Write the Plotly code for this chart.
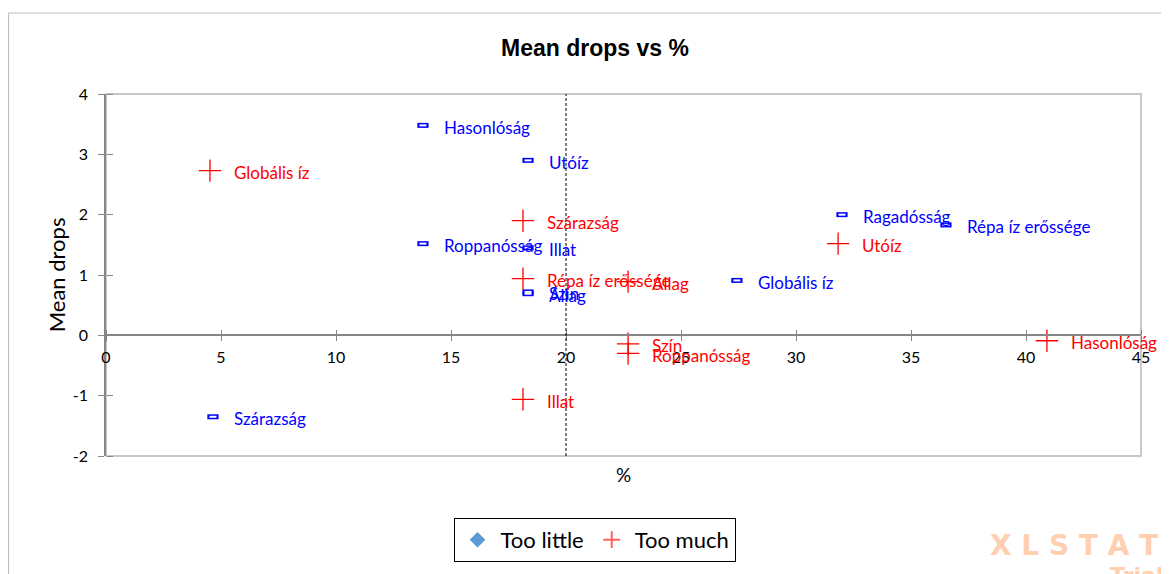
import plotly.graph_objects as go

# Too little (blue)
little_names = ["Hasonlóság", "Utóíz", "Roppanósság", "Illat", "Szín", "Állag",
                "Globális íz", "Ragadósság", "Répa íz erőssége", "Szárazság"]
little_x = [13.78, 18.35, 13.78, 18.35, 18.35, 18.35, 27.43, 32.0, 36.52, 4.65]
little_y = [3.48, 2.90, 1.52, 1.45, 0.72, 0.69, 0.91, 2.00, 1.83, -1.35]

# Too much (red)
much_names = ["Globális íz", "Szárazság", "Répa íz erőssége", "Állag", "Utóíz",
              "Hasonlóság", "Szín", "Roppanósság", "Illat"]
much_x = [4.52, 18.13, 18.13, 22.70, 31.83, 40.91, 22.70, 22.70, 18.13]
much_y = [2.73, 1.90, 0.94, 0.89, 1.52, -0.09, -0.14, -0.30, -1.06]

x_ticks = [0, 5, 10, 15, 20, 25, 30, 35, 40, 45]
x_tick_labels = ["0", "5", "10", "15", "20", "25", "30", "35", "40", "45"]
y_ticks = [-2, -1, 0, 1, 2, 3, 4]
y_tick_labels = ["-2", "-1", "0", "1", "2", "3", "4"]
x_range = [0, 45]
y_range = [-2, 4]
threshold = 20

BLUE = "#0000FF"
RED = "#FF0000"
AXIS = "#868686"
FONT = "Lato"

fig = go.Figure()

# blue hollow rectangles: outer blue bar + inner white bar
fig.add_trace(go.Scatter(x=little_x, y=little_y, mode="markers", showlegend=False,
                         marker=dict(symbol="line-ew", size=8, line=dict(color=BLUE, width=5)),
                         hoverinfo="skip"))
fig.add_trace(go.Scatter(x=little_x, y=little_y, mode="markers", showlegend=False,
                         marker=dict(symbol="line-ew", size=5, line=dict(color="white", width=2)),
                         hoverinfo="skip"))
fig.add_trace(go.Scatter(x=much_x, y=much_y, mode="markers", showlegend=False,
                         marker=dict(symbol="cross-thin", size=16, line=dict(color=RED, width=1.3))))

# legend-only traces
fig.add_trace(go.Scatter(x=[None], y=[None], mode="markers", name="Too little",
                         marker=dict(symbol="diamond", size=12, color="#5B9BD5")))
fig.add_trace(go.Scatter(x=[None], y=[None], mode="markers", name="Too much",
                         marker=dict(symbol="cross-thin", size=15, line=dict(color="#FF6060", width=1.5))))

# dummy trace for crossing-tick overlay axes
fig.add_trace(go.Scatter(x=[None], y=[None], xaxis="x2", yaxis="y2", showlegend=False))

annotations = []
for n, x, y in zip(little_names, little_x, little_y):
    annotations.append(dict(x=x, y=y, text=n, showarrow=False, xanchor="left", yanchor="middle",
                            xshift=19, yshift=-2, font=dict(family=FONT, size=17, color=BLUE)))
for n, x, y in zip(much_names, much_x, much_y):
    annotations.append(dict(x=x, y=y, text=n, showarrow=False, xanchor="left", yanchor="middle",
                            xshift=22, yshift=-2, font=dict(family=FONT, size=17, color=RED)))

annotations += [
    dict(xref="paper", yref="paper", x=0.472, y=1.127, text="<b>Mean drops vs %</b>", showarrow=False,
         xanchor="center", yanchor="middle",
         font=dict(family="Liberation Sans", size=23, color="black")),
    dict(xref="paper", yref="paper", x=0.5, y=-0.052, text="%", showarrow=False,
         xanchor="center", yanchor="middle",
         font=dict(family=FONT, size=19, color="black")),
    dict(xref="paper", yref="paper", x=-0.048, y=0.5, text="Mean drops", showarrow=False, textangle=-90,
         xanchor="center", yanchor="middle",
         font=dict(family=FONT, size=22, color="black")),
    dict(xref="paper", yref="paper", x=0.852, y=-0.246, text="<b>X L S T A T</b>", showarrow=False,
         xanchor="left", yanchor="middle",
         font=dict(family="DejaVu Sans", size=28, color="#FFCFB0")),
    dict(xref="paper", yref="paper", x=0.968, y=-0.33, text="<b>Trial</b>", showarrow=False,
         xanchor="left", yanchor="middle",
         font=dict(family="DejaVu Sans", size=22, color="#FFCFB0")),
]

shapes = [
    # outer chart border (top and left edges visible)
    dict(type="line", xref="paper", yref="paper", x0=-0.0942, x1=1.1, y0=1.2238, y1=1.2238,
         line=dict(color="#BFBFBF", width=1.2), layer="below"),
    dict(type="line", xref="paper", yref="paper", x0=-0.0942, x1=-0.0942, y0=-0.6, y1=1.2238,
         line=dict(color="#BFBFBF", width=1.2), layer="below"),
    # plot area border
    dict(type="rect", xref="paper", yref="paper", x0=0, x1=1, y0=0, y1=1,
         line=dict(color="#C8C8C8", width=2), layer="below"),
    # threshold line
    dict(type="line", xref="x", yref="paper", x0=threshold, x1=threshold, y0=0, y1=1,
         line=dict(color="black", width=1, dash="3px,2px")),
]

fig.update_layout(
    width=1161, height=566,
    margin=dict(l=98, r=28, t=86, b=118),
    paper_bgcolor="white", plot_bgcolor="white",
    showlegend=True,
    legend=dict(orientation="h", x=0.472, xanchor="center", y=-0.171, yanchor="top",
                bordercolor="black", borderwidth=1, bgcolor="white",
                font=dict(family=FONT, size=22, color="black"),
                itemsizing="constant", itemwidth=36),
    xaxis=dict(range=x_range, tickvals=x_ticks, ticktext=x_tick_labels, showgrid=False, zeroline=False,
               showline=True, linecolor=AXIS, linewidth=1.5,
               anchor="free", position=1/3, ticks="outside", ticklen=5, tickcolor=AXIS,
               ticklabelstandoff=3,
               tickfont=dict(family=FONT, size=16, color="black")),
    yaxis=dict(range=y_range, tickvals=y_ticks, ticktext=y_tick_labels, showgrid=False, zeroline=False,
               showline=True, linecolor=AXIS, linewidth=1.5,
               ticks="outside", ticklen=6, tickcolor=AXIS, ticklabelstandoff=7,
               tickfont=dict(family=FONT, size=16, color="black")),
    xaxis2=dict(range=x_range, tickvals=x_ticks, overlaying="x", anchor="free", position=1/3,
                side="top", ticks="outside", ticklen=5, tickcolor=AXIS, showticklabels=False,
                showgrid=False, zeroline=False, showline=False),
    yaxis2=dict(range=y_range, tickvals=y_ticks, overlaying="y", anchor="free", position=0,
                side="right", ticks="outside", ticklen=6, tickcolor=AXIS, showticklabels=False,
                showgrid=False, zeroline=False, showline=False),
    annotations=annotations,
    shapes=shapes,
)

fig.write_html("out.html")
